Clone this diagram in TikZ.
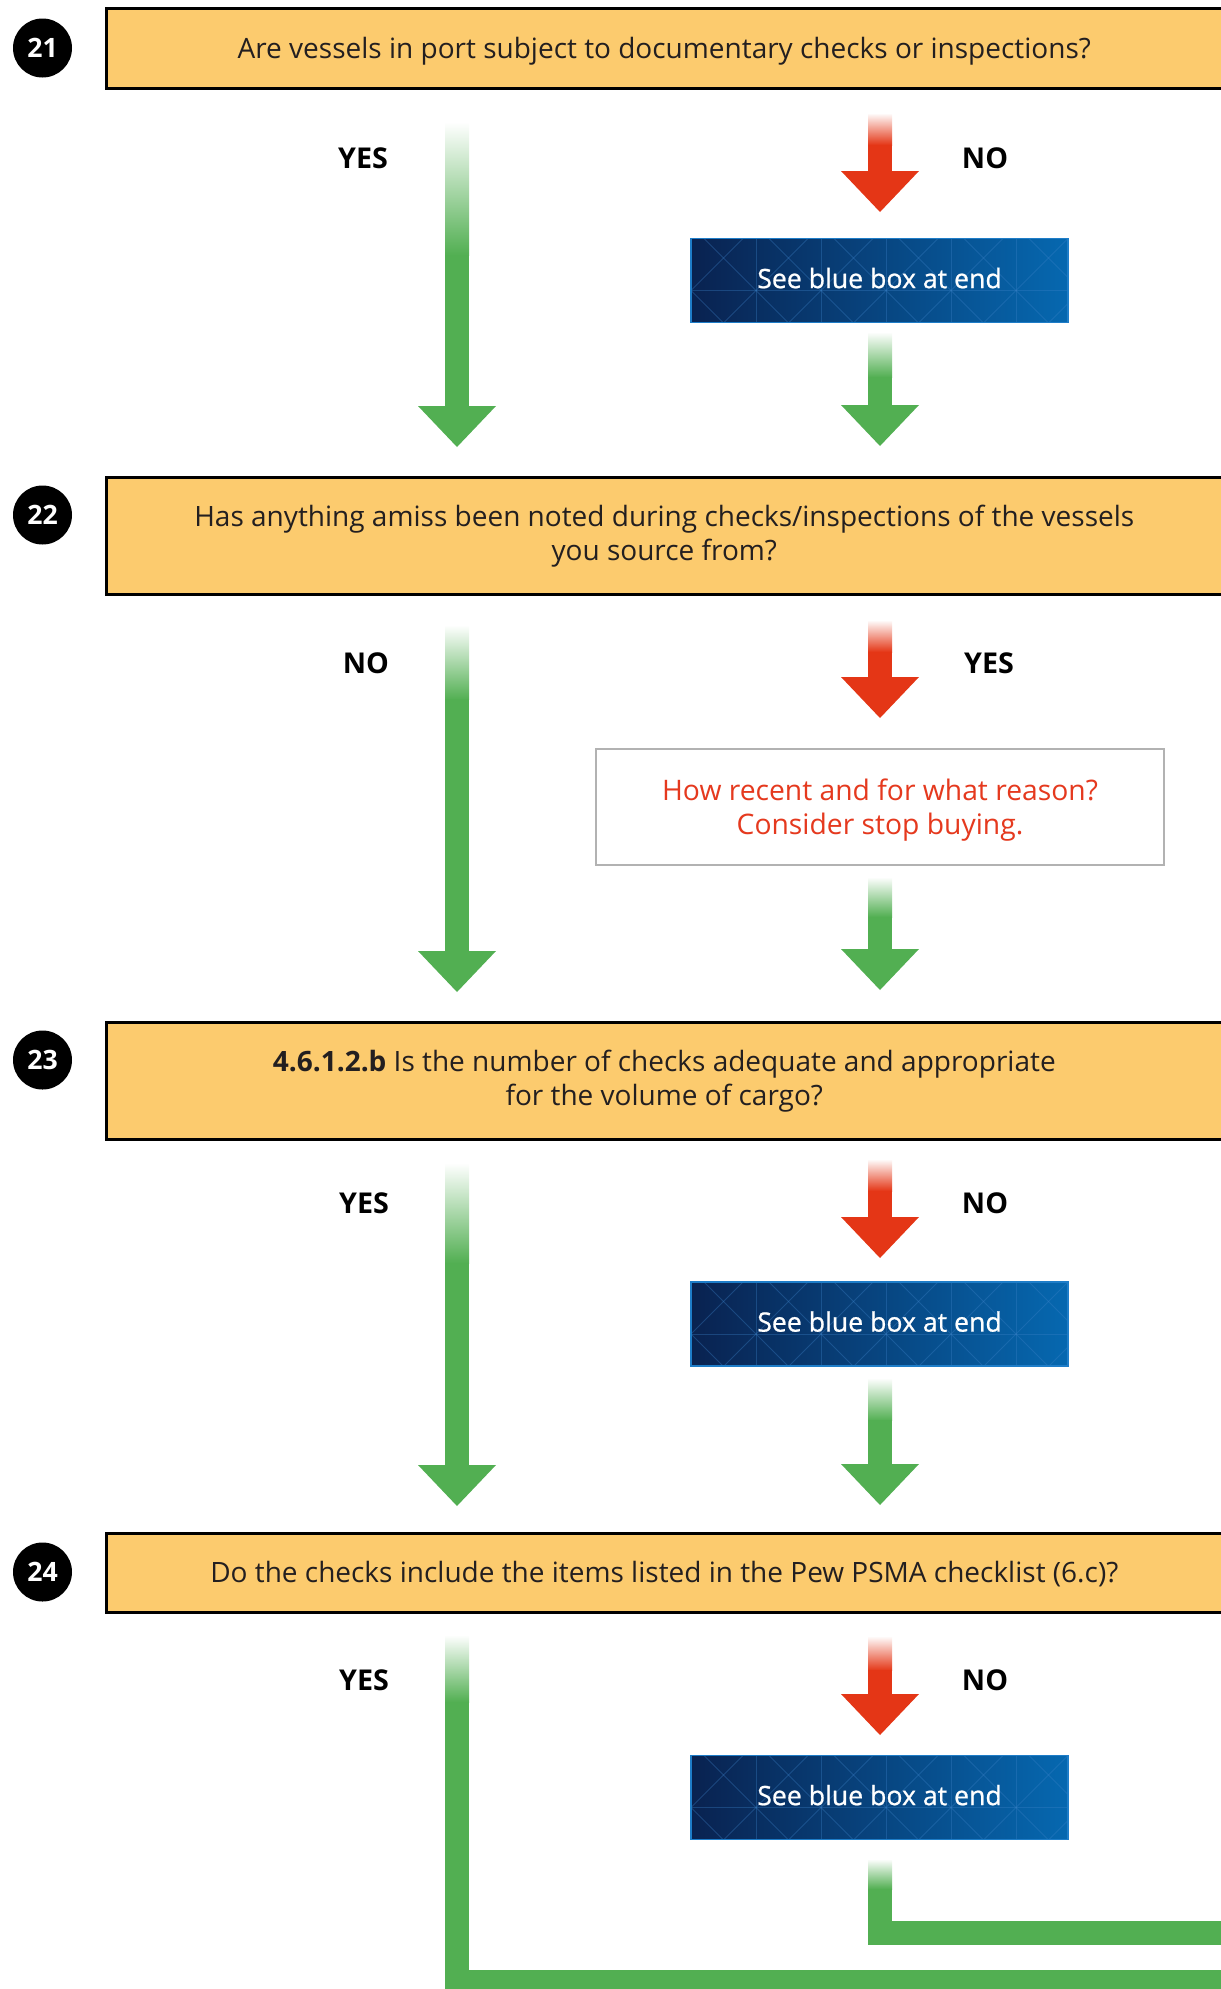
\documentclass[tikz,border=0pt]{standalone}
\usepackage{fontspec}
\setmainfont{Open Sans}
\newfontfamily\semibf[FakeBold=0.8]{Open Sans}
\usetikzlibrary{calc}
\definecolor{qorange}{RGB}{252,203,110}
\definecolor{fgreen}{RGB}{82,175,82}
\definecolor{fred}{RGB}{228,54,22}
\definecolor{bdark}{RGB}{9,34,80}
\definecolor{blight}{RGB}{6,104,176}
\definecolor{bline}{RGB}{60,130,200}
\definecolor{bborder}{RGB}{30,125,200}
\definecolor{redtext}{RGB}{229,57,30}
\definecolor{txt}{RGB}{35,31,32}

\newcommand\flowarrow[4]{%
  \shade[top color=white,bottom color=#4] let \p1=(#1) in (\x1-9pt,\y1) rectangle (\x1+9pt,\y1-#3);
  \fill[#4] let \p1=(#1),\p2=(#2) in (\x1-9pt,\y1-#3+0.3pt) rectangle (\x2+9pt,\y2+30.75pt);
  \fill[#4] let \p2=(#2) in (\x2-29.25pt,\y2+30.75pt) -- (\x2+29.25pt,\y2+30.75pt) -- (\x2,\y2) -- cycle;
}

\tikzset{
  qbox/.style={draw=black, line width=2.25pt, fill=qorange, anchor=north west, outer sep=0pt,
    inner sep=0pt, align=center, text=txt, minimum width=837.4pt,
    font=\fontsize{21}{25.5}\selectfont},
  oneline/.style={text height=19.6pt, text depth=5.2pt},
  numdot/.style={circle, fill=black, minimum size=44.25pt, inner sep=0pt, text=white,
    font=\bfseries\fontsize{20}{24}\selectfont},
  answer/.style={font=\bfseries\fontsize{21.5}{26}\selectfont, inner sep=0pt, text=black},
  patline/.style={draw=bline, draw opacity=0.35, line width=0.6pt},
  bluebox/.style={draw=bborder, line width=0.8pt, left color=bdark, right color=blight,
    minimum width=282.75pt, minimum height=63pt, inner sep=0pt, text=white, text depth=3.8pt,
    font=\semibf\fontsize{20}{24}\selectfont,
    path picture={
      \foreach \k in {1,...,5}
        \draw[patline] ($(path picture bounding box.north west)+(65*\k,0)$) -- ++(0,84);
      \draw[patline] ($(path picture bounding box.north west)+(0,52)$) -- ++(377,0);
      \foreach \k in {0,...,6} {
        \draw[patline] ($(path picture bounding box.north west)+(65*\k-52,0)$) -- ++(84,84);
        \draw[patline] ($(path picture bounding box.north west)+(65*\k+52,0)$) -- ++(-84,84);
      }
    }},
  notebox/.style={draw=black!30, line width=1.1pt, fill=white, text=redtext, minimum width=426pt,
    minimum height=87pt, align=center, inner sep=0pt, text depth=0pt,
    font=\fontsize{21.2}{25.5}\selectfont},
}

\begin{document}
\begin{tikzpicture}[x=0.75pt,y=-0.75pt]
\useasboundingbox (0,0) rectangle (1221,1989);
\clip (0,0) rectangle (1221,1989);

% ---------- question boxes and numbers ----------
\node[qbox, oneline, minimum height=60pt] (q21) at (106,8.5)
  {Are vessels in port subject to documentary checks or inspections?};
\node[qbox, minimum height=87.75pt] (q22) at (106,477.5)
  {Has anything amiss been noted during checks/inspections of the vessels\\you source from?};
\node[qbox, minimum height=88.1pt] (q23) at (106,1022)
  {\textbf{4.6.1.2.b} Is the number of checks adequate and appropriate\\for the volume of cargo?};
\node[qbox, oneline, minimum height=59.6pt] (q24) at (106,1533)
  {Do the checks include the items listed in the Pew PSMA checklist (6.c)?};

\node[numdot] (n21) at (42.5,48) {21};
\node[numdot] (n22) at (42.5,515) {22};
\node[numdot] (n23) at (42.5,1060) {23};
\node[numdot] (n24) at (42.5,1572) {24};

% ---------- answer labels ----------
\node[answer] (y1) at (363,158) {YES};
\node[answer] (n1) at (985,158) {NO};
\node[answer] (n2) at (366,663) {NO};
\node[answer] (y2) at (989,663) {YES};
\node[answer] (y3) at (364,1203) {YES};
\node[answer] (n3) at (985,1203) {NO};
\node[answer] (y4) at (364,1680) {YES};
\node[answer] (n4) at (985,1680) {NO};

% ---------- result boxes ----------
\node[bluebox] (b1) at (879.5,280.5) {See blue box at end};
\node[notebox] (w2) at (880,807) {How recent and for what reason?\\Consider stop buying.};
\node[bluebox] (b3) at (879.5,1324) {See blue box at end};
\node[bluebox] (b4) at (879.5,1797.5) {See blue box at end};

% ---------- arrow end points ----------
\coordinate (a1ys) at (457,122);  \coordinate (a1ye) at (457,447);
\coordinate (a1ns) at (880,113);  \coordinate (a1ne) at (880,212);
\coordinate (a1bs) at (880,332);  \coordinate (a1be) at (880,446);

\coordinate (a2ns) at (457,625);  \coordinate (a2ne) at (457,992);
\coordinate (a2ys) at (880,620);  \coordinate (a2ye) at (880,718);
\coordinate (a2ws) at (880,877);  \coordinate (a2we) at (880,990);

\coordinate (a3ys) at (457,1163); \coordinate (a3ye) at (457,1506);
\coordinate (a3ns) at (880,1159); \coordinate (a3ne) at (880,1258);
\coordinate (a3bs) at (880,1378); \coordinate (a3be) at (880,1505);

\coordinate (a4ys) at (457,1635); \coordinate (a4yf) at (457,1702); \coordinate (a4ye) at (1240,1982);
\coordinate (a4ns) at (880,1636); \coordinate (a4ne) at (880,1735);
\coordinate (a4bs) at (880,1859); \coordinate (a4bf) at (880,1889); \coordinate (a4be) at (1240,1933);

% ---------- arrows ----------
\flowarrow{a1ys}{a1ye}{100pt}{fgreen}
\flowarrow{a1ns}{a1ne}{24pt}{fred}
\flowarrow{a1bs}{a1be}{34pt}{fgreen}

\flowarrow{a2ns}{a2ne}{56pt}{fgreen}
\flowarrow{a2ys}{a2ye}{24pt}{fred}
\flowarrow{a2ws}{a2we}{30pt}{fgreen}

\flowarrow{a3ys}{a3ye}{75pt}{fgreen}
\flowarrow{a3ns}{a3ne}{24pt}{fred}
\flowarrow{a3bs}{a3be}{32pt}{fgreen}

\flowarrow{a4ns}{a4ne}{26pt}{fred}

\shade[top color=white,bottom color=fgreen] let \p1=(a4ys), \p2=(a4yf) in (\x1-9pt,\y1) rectangle (\x2+9pt,\y2);
\draw[fgreen, line width=18pt] ([yshift=0.3pt]a4yf) |- (a4ye);
\shade[top color=white,bottom color=fgreen] let \p1=(a4bs), \p2=(a4bf) in (\x1-9pt,\y1) rectangle (\x2+9pt,\y2);
\draw[fgreen, line width=18pt] ([yshift=0.3pt]a4bf) |- (a4be);
\end{tikzpicture}
\end{document}
